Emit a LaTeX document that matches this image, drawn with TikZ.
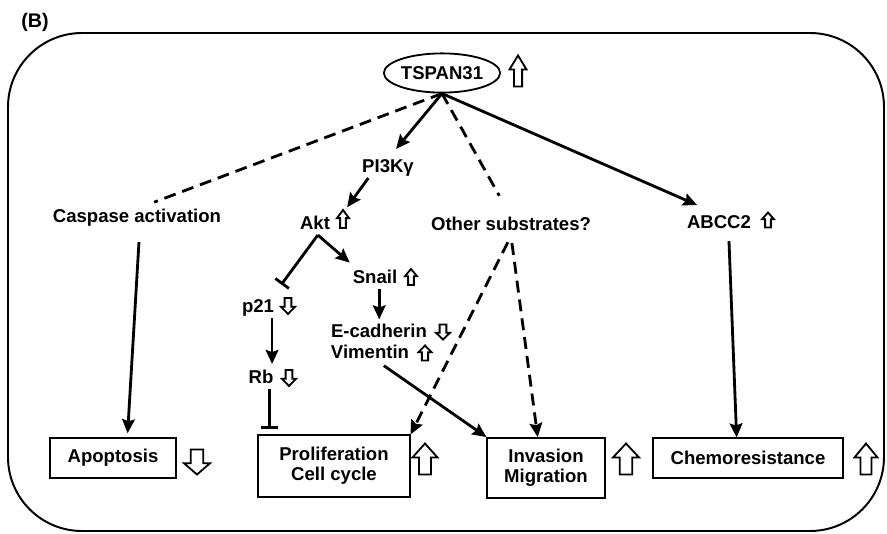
\documentclass[tikz,border=0pt]{standalone}
\usepackage{fontspec}
\setmainfont{Liberation Sans}
\usetikzlibrary{arrows.meta,shapes.geometric,calc}

\begin{document}
\begin{tikzpicture}[x=0.025cm,y=-0.025cm,
  lbl/.style={font=\bfseries\fontsize{13.2}{14.5}\selectfont,anchor=base,inner sep=2pt,text height=0.73em,text depth=0.21em},
  outcome/.style={draw,line width=1.3pt,font=\bfseries\fontsize{13.2}{14.2}\selectfont,align=center,inner sep=0pt},
  arr/.style={line width=2pt,-{Stealth[length=10pt,width=9pt,inset=1.5pt]}},
  inh/.style={line width=2pt,-{Bar[width=12pt]}},
  dashl/.style={line width=2pt,dash pattern=on 8.5pt off 5pt},
  hollow/.style={draw,line width=1.3pt,fill=white},
  upmark/.pic={\draw[hollow] (0,-0.5) -- (0.5,-0.05) -- (0.24,-0.05) -- (0.24,0.5) -- (-0.24,0.5) -- (-0.24,-0.05) -- (-0.5,-0.05) -- cycle;}]
  \useasboundingbox (0,0) rectangle (887,533);

  % Panel tag and cell outline
  \node[lbl,anchor=center,font=\bfseries\fontsize{14}{15}\selectfont] (tag) at (35,24) {(B)};
  \draw[line width=1.4pt,rounded corners=1.85cm] (8,33) rectangle (884,531);

  % Top: TSPAN31
  \node[draw,ellipse,line width=1.3pt,minimum width=2.75cm,minimum height=0.98cm,inner sep=0pt,
    font=\bfseries\fontsize{13.2}{14.5}\selectfont] (tspan) at (442,73) {TSPAN31};

  % Middle: signalling labels
  \node[lbl] (pik) at (388,172) {PI3Kγ};
  \node[lbl] (casp) at (137,222) {Caspase activation};
  \node[lbl] (akt) at (315,229) {Akt};
  \node[lbl] (other) at (511,230) {Other substrates?};
  \node[lbl] (abcc) at (719,228) {ABCC2};
  \node[lbl] (snail) at (375,283) {Snail};
  \node[lbl] (p21) at (258,312) {p21};
  \node[lbl] (ecad) at (379,337) {E-cadherin};
  \node[lbl] (vim) at (370,358) {Vimentin};
  \node[lbl] (rb) at (261,383) {Rb};

  % Bottom: outcomes
  \node[outcome,minimum width=3.15cm,minimum height=0.98cm] (apop) at (113,458) {Apoptosis};
  \node[outcome,minimum width=3.78cm,minimum height=1.53cm] (prolif) at (334,466) {Proliferation\\Cell cycle};
  \node[outcome,minimum width=2.93cm,minimum height=1.5cm] (inv) at (546,468) {Invasion\\Migration};
  \node[outcome,minimum width=4.73cm,minimum height=0.98cm] (chemo) at (748,458) {Chemoresistance};

  % Up / down marks (negative height = down)
  \foreach \x/\y/\w/\h in {518/71/17/31, 343/219/12/18, 411/277/12/16, 768/220/12/15,
      288/306/14/-16, 443/332/14/-15, 425/353/13/15, 289/378/14/-16,
      197/462/26/-25, 425/459/25/31, 626/459/26/31, 866/459/23/31} {
    \pic[xscale=\w,yscale=\h] at (\x,\y) {upmark};
  }

  % Connectors from TSPAN31
  \draw[arr,shorten >=9pt] (tspan.south) -- (pik.north);
  \draw[dashl,shorten >=13pt] (tspan.south) -- (casp.north);
  \draw[dashl,shorten >=17pt] (tspan.south) -- (other.north);
  \draw[arr,shorten >=17pt] (tspan.south) -- (abcc.north);

  % Akt branch
  \draw[arr] ([xshift=-14pt]pik.south) -- ([xshift=10pt,yshift=6pt]akt.north east);
  \draw[inh] ([xshift=2pt]akt.south) -- ([xshift=3pt,yshift=10pt]p21.north east);
  \draw[arr] ([xshift=2pt]akt.south) -- ([yshift=5pt]snail.north west);
  \draw[arr,shorten >=3pt] ([xshift=3pt]snail.south) -- ([xshift=3pt]snail.south |- ecad.north);
  \draw[arr,shorten >=4pt] ([xshift=10pt]p21.south) -- ([xshift=10pt]p21.south |- rb.north);
  \draw[inh,shorten >=4pt] ([xshift=6pt]rb.south) -- ([xshift=6pt]rb.south |- prolif.north);

  % Into the outcomes
  \draw[arr,shorten <=10pt,shorten >=3pt] ([xshift=2pt]casp.south) -- (apop.55);
  \draw[arr,shorten <=2pt] (vim.-40) -- (inv.north west);
  \draw[dashl,arr,shorten <=5pt] (other.south) -- (prolif.north east);
  \draw[dashl,arr,shorten <=5pt] (other.south) -- (inv.105);
  \draw[arr,shorten <=5pt] (abcc.-45) -- (chemo.119);
\end{tikzpicture}
\end{document}
